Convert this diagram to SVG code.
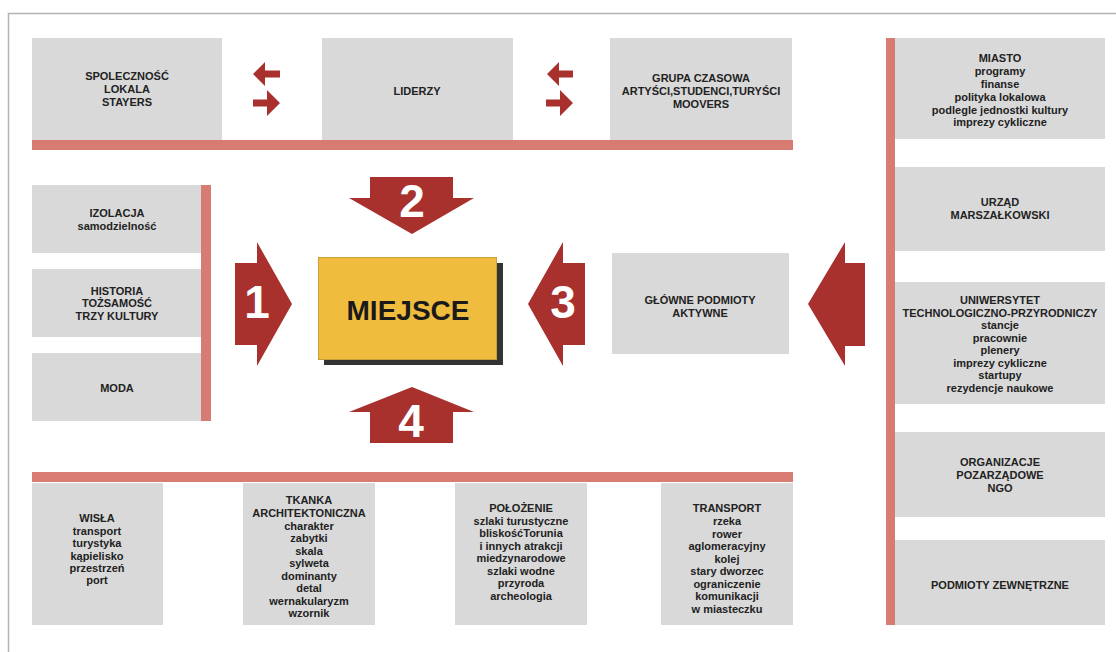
<svg xmlns="http://www.w3.org/2000/svg" width="1116" height="652" viewBox="0 0 1116 652">
<style>
.box{fill:#d9d9d9}
.bar{fill:#d87b73}
.arr{fill:#a8302d}
.t{font-family:"Liberation Sans",Arial,sans-serif;font-weight:bold;font-size:11px;fill:#222;text-anchor:middle}
.num{font-family:"Liberation Sans",Arial,sans-serif;font-weight:bold;font-size:46px;fill:#fff;text-anchor:middle}
.main{font-family:"Liberation Sans",Arial,sans-serif;font-weight:bold;font-size:28px;fill:#1a1a1a;text-anchor:middle}
</style>
<rect width="1116" height="652" fill="#fff"/>
<g id="frame" fill="none" stroke="#b3b3b3" stroke-width="1.5">
<path d="M8.5 652 V13.5 H1116"/>
</g>
<g id="bars">
<rect class="bar" x="32" y="140" width="761" height="10"/>
<rect class="bar" x="201" y="185" width="10" height="236"/>
<rect class="bar" x="32" y="472" width="761" height="10"/>
<rect class="bar" x="886" y="38" width="9" height="587"/>
</g>
<g id="n-spolecznosc">
<rect class="box" x="32" y="38" width="190" height="102"/>
<text class="t" x="127" y="80">SPOLECZNOŚĆ</text>
<text class="t" x="127" y="93">LOKALA</text>
<text class="t" x="127" y="105.5">STAYERS</text>
</g>
<g id="n-liderzy">
<rect class="box" x="322" y="38" width="191" height="102"/>
<text class="t" x="417" y="95">LIDERZY</text>
</g>
<g id="n-grupa">
<rect class="box" x="610" y="38" width="182" height="102"/>
<text class="t" x="701" y="82">GRUPA CZASOWA</text>
<text class="t" x="701" y="95">ARTYŚCI,STUDENCI,TURYŚCI</text>
<text class="t" x="701" y="108">MOOVERS</text>
</g>
<g id="n-miasto">
<rect class="box" x="895" y="38" width="210" height="101"/>
<text class="t" x="1000" y="62">MIASTO</text>
<text class="t" x="1000" y="75">programy</text>
<text class="t" x="1000" y="88">finanse</text>
<text class="t" x="1000" y="101">polityka lokalowa</text>
<text class="t" x="1000" y="113.5">podlegle jednostki kultury</text>
<text class="t" x="1000" y="126">imprezy cykliczne</text>
</g>
<g id="n-urzad">
<rect class="box" x="895" y="167" width="210" height="84"/>
<text class="t" x="1000" y="206">URZĄD</text>
<text class="t" x="1000" y="218.5">MARSZAŁKOWSKI</text>
</g>
<g id="n-uniwersytet">
<rect class="box" x="895" y="282" width="210" height="122"/>
<text class="t" x="1000" y="304">UNIWERSYTET</text>
<text class="t" x="1000" y="317">TECHNOLOGICZNO-PRZYRODNICZY</text>
<text class="t" x="1000" y="329">stancje</text>
<text class="t" x="1000" y="342">pracownie</text>
<text class="t" x="1000" y="354">plenery</text>
<text class="t" x="1000" y="367">imprezy cykliczne</text>
<text class="t" x="1000" y="379">startupy</text>
<text class="t" x="1000" y="392">rezydencje naukowe</text>
</g>
<g id="n-organizacje">
<rect class="box" x="895" y="432" width="210" height="85"/>
<text class="t" x="1000" y="466">ORGANIZACJE</text>
<text class="t" x="1000" y="479">POZARZĄDOWE</text>
<text class="t" x="1000" y="492">NGO</text>
</g>
<g id="n-podmioty">
<rect class="box" x="895" y="540" width="210" height="85"/>
<text class="t" x="1000" y="589">PODMIOTY ZEWNĘTRZNE</text>
</g>
<g id="n-izolacja">
<rect class="box" x="32" y="185" width="169" height="68"/>
<text class="t" x="117" y="217">IZOLACJA</text>
<text class="t" x="117" y="230">samodzielność</text>
</g>
<g id="n-historia">
<rect class="box" x="32" y="269" width="169" height="68"/>
<text class="t" x="117" y="294.5">HISTORIA</text>
<text class="t" x="117" y="307">TOŻSAMOŚĆ</text>
<text class="t" x="117" y="320">TRZY KULTURY</text>
</g>
<g id="n-moda">
<rect class="box" x="32" y="353" width="169" height="68"/>
<text class="t" x="117" y="392">MODA</text>
</g>
<g id="n-miejsce">
<rect x="324" y="263" width="179" height="102" fill="#333"/>
<rect x="318.5" y="257.5" width="178" height="102" fill="#f0bc3e" stroke="#c9a137" stroke-width="1"/>
<text class="main" x="408" y="320">MIEJSCE</text>
</g>
<g id="n-glowne">
<rect class="box" x="612" y="253" width="177" height="101"/>
<text class="t" x="700" y="304">GŁÓWNE PODMIOTY</text>
<text class="t" x="700" y="317">AKTYWNE</text>
</g>
<g id="n-wisla">
<rect class="box" x="32" y="483" width="131" height="142"/>
<text class="t" x="97" y="522">WISŁA</text>
<text class="t" x="97" y="535">transport</text>
<text class="t" x="97" y="547">turystyka</text>
<text class="t" x="97" y="559.5">kąpielisko</text>
<text class="t" x="97" y="572">przestrzeń</text>
<text class="t" x="97" y="584">port</text>
</g>
<g id="n-tkanka">
<rect class="box" x="243" y="483" width="132" height="142"/>
<text class="t" x="309" y="504">TKANKA</text>
<text class="t" x="309" y="517">ARCHITEKTONICZNA</text>
<text class="t" x="309" y="530">charakter</text>
<text class="t" x="309" y="542">zabytki</text>
<text class="t" x="309" y="555">skala</text>
<text class="t" x="309" y="567">sylweta</text>
<text class="t" x="309" y="580">dominanty</text>
<text class="t" x="309" y="592">detal</text>
<text class="t" x="309" y="605">wernakularyzm</text>
<text class="t" x="309" y="617">wzornik</text>
</g>
<g id="n-polozenie">
<rect class="box" x="455" y="483" width="132" height="142"/>
<text class="t" x="521" y="512">POŁOŻENIE</text>
<text class="t" x="521" y="525">szlaki turustyczne</text>
<text class="t" x="521" y="537">bliskośćTorunia</text>
<text class="t" x="521" y="550">i innych atrakcji</text>
<text class="t" x="521" y="562">miedzynarodowe</text>
<text class="t" x="521" y="575">szlaki wodne</text>
<text class="t" x="521" y="587">przyroda</text>
<text class="t" x="521" y="600">archeologia</text>
</g>
<g id="n-transport">
<rect class="box" x="661" y="483" width="132" height="142"/>
<text class="t" x="727" y="512">TRANSPORT</text>
<text class="t" x="727" y="525">rzeka</text>
<text class="t" x="727" y="538">rower</text>
<text class="t" x="727" y="550">aglomeracyjny</text>
<text class="t" x="727" y="563">kolej</text>
<text class="t" x="727" y="575">stary dworzec</text>
<text class="t" x="727" y="588">ograniczenie</text>
<text class="t" x="727" y="600">komunikacji</text>
<text class="t" x="727" y="613">w miasteczku</text>
</g>
<g id="connectors">
<polygon class="arr" points="253,74 265,62 265,70.5 280,70.5 280,77.5 265,77.5 265,86"/>
<polygon class="arr" points="280,103 267,90 267,99.5 253,99.5 253,106.5 267,106.5 267,116"/>
<polygon class="arr" points="547,74 559,62 559,70.5 573,70.5 573,77.5 559,77.5 559,86"/>
<polygon class="arr" points="573,103 560,90 560,99.5 546,99.5 546,106.5 560,106.5 560,116"/>
<polygon class="arr" points="235,263 257,263 257,242 292,304 257,366 257,345 235,345"/>
<polygon class="arr" points="370,177 453,177 453,198 474,198 412,234 349,198 370,198"/>
<polygon class="arr" points="528,304 563,242 563,263 585,263 585,345 563,345 563,366"/>
<polygon class="arr" points="412,387 474,412 453,412 453,443 370,443 370,412 349,412"/>
<polygon class="arr" points="808,304 845,242 845,263 865,263 865,346 845,346 845,366"/>
<text class="num" x="257" y="318">1</text>
<text class="num" x="412" y="217">2</text>
<text class="num" x="563" y="318">3</text>
<text class="num" x="411" y="437">4</text>
</g>
</svg>
